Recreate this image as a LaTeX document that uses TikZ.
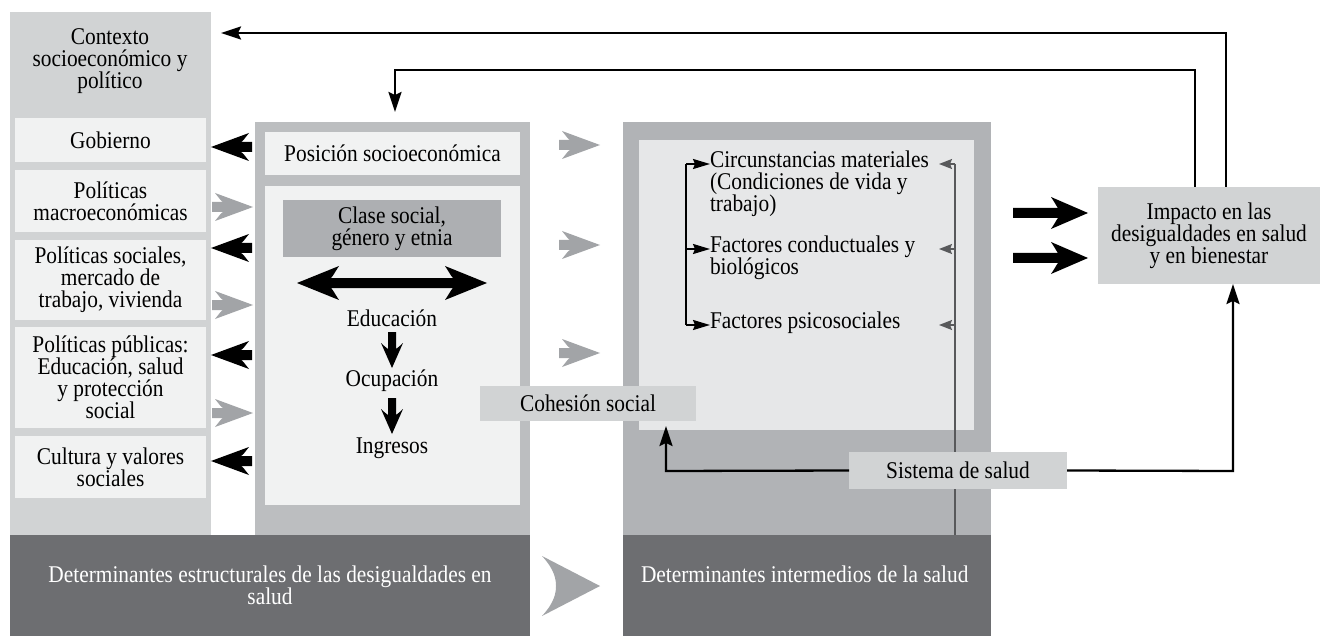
\documentclass[tikz,border=0pt]{standalone}
\usepackage{fontspec}
\setmainfont{Liberation Serif}[FakeStretch=0.89]
\usetikzlibrary{arrows.meta}
\definecolor{ctxgray}{HTML}{D1D3D4}
\definecolor{boxlight}{HTML}{F1F2F2}
\definecolor{colgray}{HTML}{BCBEC0}
\definecolor{midgray}{HTML}{B1B3B6}
\definecolor{clsgray}{HTML}{ADAFB2}
\definecolor{innerlight}{HTML}{E6E7E8}
\definecolor{darkband}{HTML}{6D6E71}
\definecolor{arrgray}{HTML}{A2A4A7}
\definecolor{linegray}{HTML}{58595B}
\tikzset{
  txt/.style={font=\fontsize{24}{22}\selectfont, inner sep=0pt, outer sep=0pt, align=center},
  panel/.style={rectangle, anchor=north west, inner sep=0pt, outer sep=0pt, draw=none},
  fb/.style={line width=2.3pt, black, -{Stealth[length=20pt,width=13pt,inset=3pt,fill=black]}},
  thin/.style={line width=1.8pt, black, -{Stealth[length=17pt,width=10pt,inset=2pt,fill=black]}},
  thing/.style={line width=1.5pt, linegray, -{Stealth[length=13pt,width=10pt,inset=2pt,fill=linegray]}},
  larrow/.pic={\fill[pic actions] (0,0) -- (38,-14) .. controls (34,-9) and (32,-6) .. (30,-5) -- (41,-5) -- (41,5) -- (30,5) .. controls (32,6) and (34,9) .. (38,14) -- cycle;},
  bigarrow/.pic={\fill[pic actions] (0,0) -- (-37,-16) .. controls (-33,-10) and (-31,-6) .. (-30,-5) -- (-75,-5) -- (-75,5) -- (-30,5) .. controls (-31,6) and (-33,10) .. (-37,16) -- cycle;},
  downarrow/.pic={\fill[pic actions] (0,0) -- (-11,-25) .. controls (-7,-21) and (-5,-20) .. (-4,-19) -- (-4,-36) -- (4,-36) -- (4,-19) .. controls (5,-20) and (7,-21) .. (11,-25) -- cycle;}
}
\begin{document}
\begin{tikzpicture}[x=1pt,y=-1pt]
\fill[white] (0,0) rectangle (1335,636);
\useasboundingbox (0,0) rectangle (1335,636);

% columns
\node[panel, fill=ctxgray, minimum width=201pt, minimum height=523pt] (ctx) at (10,12) {};
\node[panel, fill=colgray, minimum width=275pt, minimum height=413pt] (estr) at (255,122) {};
\node[panel, fill=midgray, minimum width=368pt, minimum height=413pt] (inter) at (623,122) {};
\node[panel, fill=innerlight, minimum width=335pt, minimum height=290pt] (innerb) at (639,140) {};

% dark bands
\node[panel, fill=darkband, minimum width=520pt, minimum height=101pt] (bandL) at (10,535) {};
\node[panel, fill=darkband, minimum width=368pt, minimum height=101pt] (bandR) at (623,535) {};
\node[txt, white, anchor=north] (bandLt) at (270,566) {Determinantes estructurales de las desigualdades en\\salud};
\node[txt, white, anchor=north west] (bandRt) at (641,566) {Determinantes intermedios de la salud};
\fill[arrgray] (600,586) -- (542,556) .. controls (555,570) and (556,580) .. (556,586) .. controls (556,592) and (555,602) .. (542,616) -- cycle;

% context column
\node[txt] (ctxt) at (110,61) {Contexto\\socioeconómico y\\político};
\node[panel, txt, fill=boxlight, minimum width=191pt, minimum height=44pt] (gob) at (15,118) {Gobierno};
\node[panel, txt, fill=boxlight, minimum width=191pt, minimum height=62pt] (mac) at (15,170) {Políticas\\macroeconómicas};
\node[panel, txt, fill=boxlight, minimum width=191pt, minimum height=80pt] (soc) at (15,240) {Políticas sociales,\\mercado de\\trabajo, vivienda};
\node[panel, txt, fill=boxlight, minimum width=191pt, minimum height=101pt] (pub) at (15,327) {Políticas públicas:\\Educación, salud\\y protección\\social};
\node[panel, txt, fill=boxlight, minimum width=191pt, minimum height=62pt] (cul) at (15,436) {Cultura y valores\\sociales};

% arrows between context and structural column
\pic[fill=black] at (211,147) {larrow};
\pic[fill=black] at (211,248) {larrow};
\pic[fill=black] at (211,355) {larrow};
\pic[fill=black] at (211,461) {larrow};
\pic[fill=arrgray, xscale=-1] at (253,207) {larrow};
\pic[fill=arrgray, xscale=-1] at (253,305) {larrow};
\pic[fill=arrgray, xscale=-1] at (253,413) {larrow};

% structural column content
\node[panel, txt, fill=boxlight, minimum width=255pt, minimum height=43pt] (pos) at (265,132) {Posición socioeconómica};
\node[panel, fill=boxlight, minimum width=255pt, minimum height=319pt] (low) at (265,186) {};
\node[panel, txt, fill=clsgray, minimum width=218pt, minimum height=57pt] (cls) at (283,200) {Clase social,\\género y etnia};
\fill[black] (297,283) -- (339,266) .. controls (335,272) and (333,276) .. (331,278) -- (453,278) .. controls (451,276) and (449,272) .. (445,266) -- (487,283) -- (445,300) .. controls (449,294) and (451,290) .. (453,288) -- (331,288) .. controls (333,290) and (335,294) .. (339,300) -- cycle;
\node[txt] (edu) at (392,318) {Educación};
\node[txt] (ocu) at (392,381) {Ocupación};
\node[txt] (ing) at (392,448) {Ingresos};
\pic[fill=black] at (392,368) {downarrow};
\pic[fill=black] at (392,434) {downarrow};

% gray arrows between structural and intermediate
\pic[fill=arrgray, xscale=-1] at (600,145) {larrow};
\pic[fill=arrgray, xscale=-1] at (600,245) {larrow};
\pic[fill=arrgray, xscale=-1] at (600,353) {larrow};

% intermediate contents
\node[txt, align=left, anchor=north west] (circ) at (710,151) {Circunstancias materiales\\(Condiciones de vida y\\trabajo)};
\node[txt, align=left, anchor=north west] (fcb) at (710,236) {Factores conductuales y\\biológicos};
\node[txt, align=left, anchor=north west] (fps) at (710,312) {Factores psicosociales};
\coordinate (bt) at (686,164);
\coordinate (bm) at (686,249);
\coordinate (bb) at (686,325);
\draw[line width=1.8pt] (bt) -- (bb);
\draw[thin] (bt) -- (circ.west |- bt);
\draw[thin] (bm) -- (fcb.west |- bm);
\draw[thin] (bb) -- (fps.west |- bb);
\coordinate (gt) at (955,164);
\coordinate (gm) at (955,249);
\coordinate (gb) at (955,325);
\draw[line width=1.5pt, linegray] (gt) -- (bandR.north -| gt);
\draw[thing] (gt) -- (939,164);
\draw[thing] (gm) -- (939,249);
\draw[thing] (gb) -- (939,325);

% cohesion and health system
\node[panel, txt, fill=ctxgray, minimum width=216pt, minimum height=35pt] (coh) at (480,386) {Cohesión social};
\node[panel, txt, fill=ctxgray, minimum width=218pt, minimum height=37pt] (sis) at (849,452) {Sistema de salud};

% impact
\node[panel, txt, fill=ctxgray, minimum width=222pt, minimum height=97pt] (imp) at (1098,187) {Impacto en las\\desigualdades en salud\\y en bienestar};
\pic[fill=black] at (1088,213) {bigarrow};
\pic[fill=black] at (1088,258) {bigarrow};

% connectors
\coordinate (ca) at (666,471);
\draw[fb] (sis.west) -- (ca) -- (666,426);
\coordinate (cb) at (1233,471);
\draw[fb] (sis.east) -- (cb) -- (imp.south -| cb);
\coordinate (o1) at (1226,33);
\coordinate (o1e) at (221,33);
\draw[fb] (imp.north -| o1) -- (o1) -- (o1e);
\coordinate (o2) at (1195,70);
\coordinate (o3) at (395,70);
\draw[fb] (imp.north -| o2) -- (o2) -- (o3) -- (395,112);
\end{tikzpicture}
\end{document}
